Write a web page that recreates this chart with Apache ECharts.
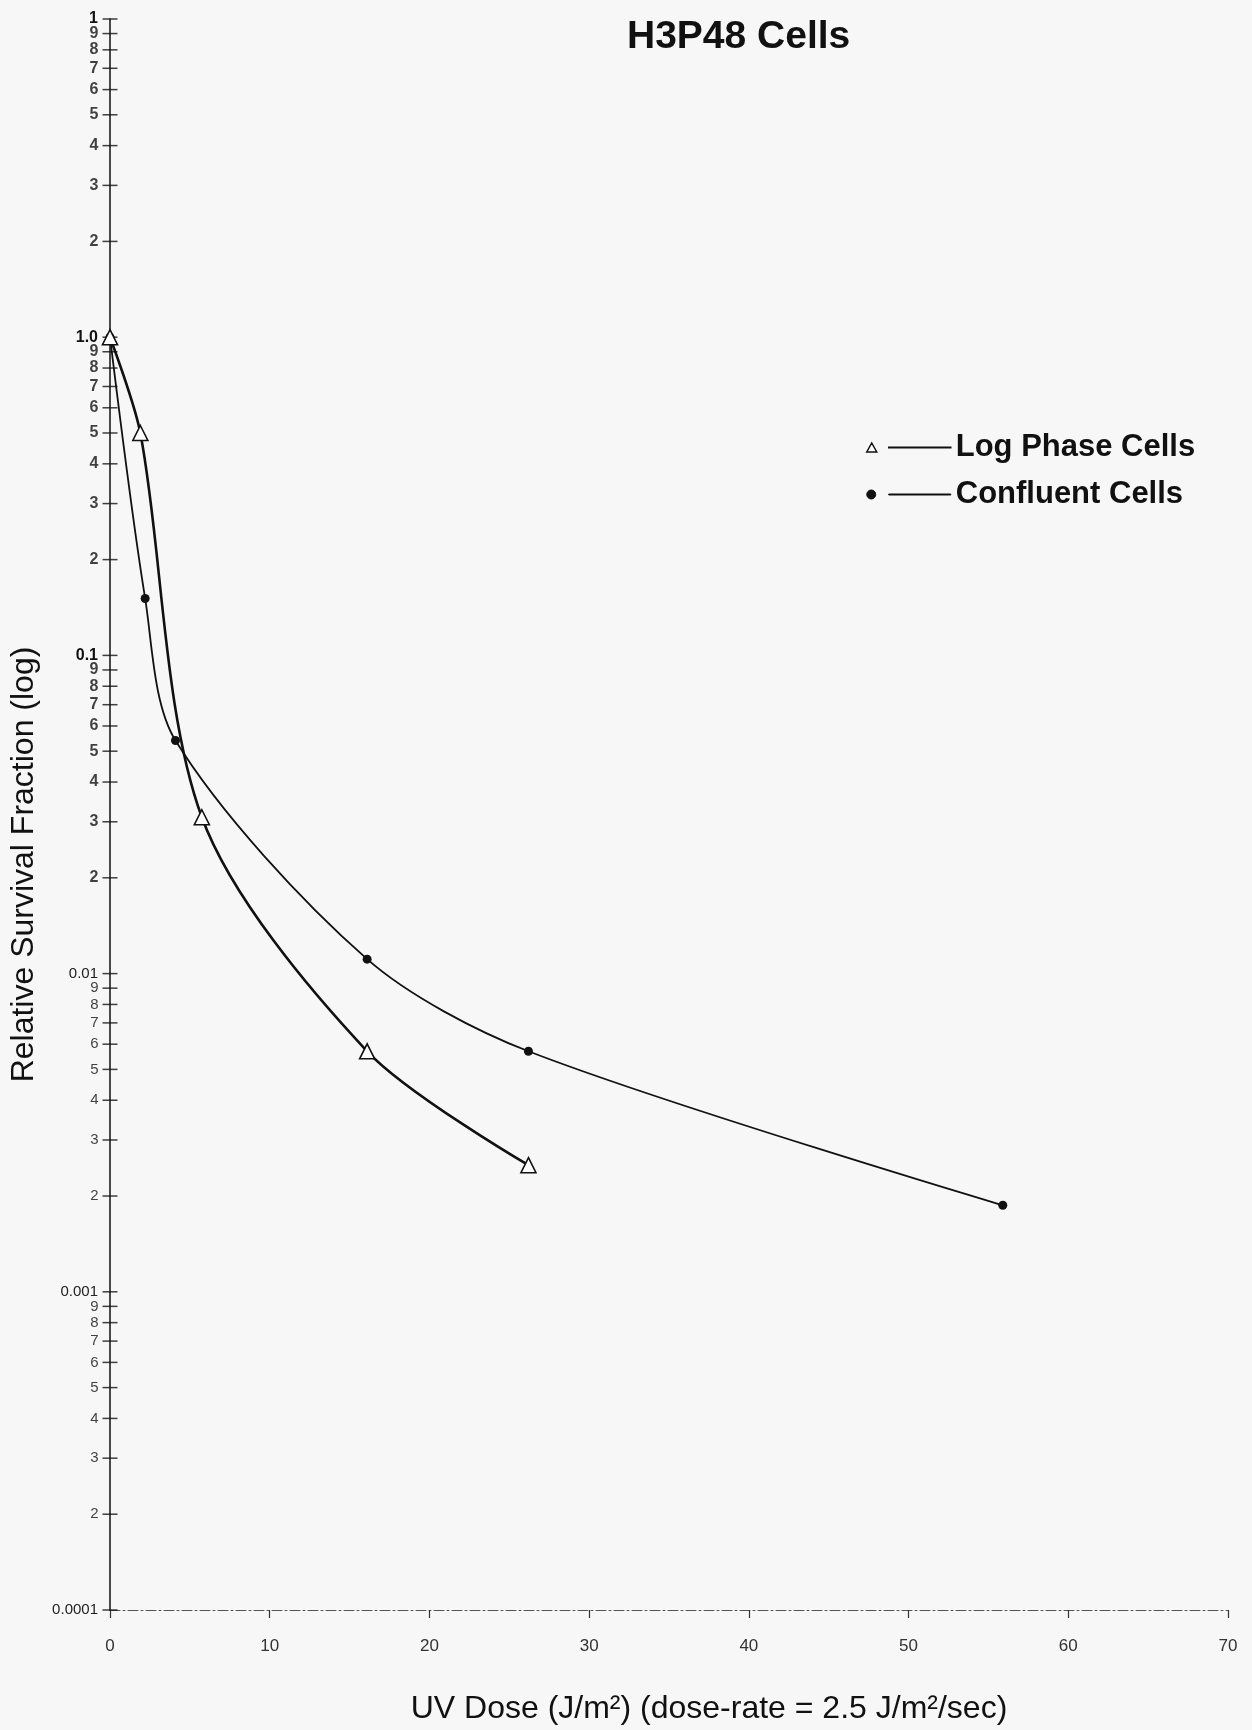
<!DOCTYPE html>
<html><head><meta charset="utf-8">
<script src="https://cdn.jsdelivr.net/npm/echarts@6/dist/echarts.min.js"></script>
<style>html,body{margin:0;padding:0;background:#f7f7f7}#c{width:1252px;height:1730px}</style>
</head><body><div id="c"></div>
<script>
// ---- data ----
const titleText = 'H3P48 Cells';
const seriesNames = ['Log Phase Cells', 'Confluent Cells'];
const logPhaseDose = [0, 1.9, 5.75, 16.1, 26.2];
const logPhaseSurvival = [1.0, 0.50, 0.031, 0.0057, 0.0025];
const confluentDose = [0, 2.2, 4.1, 16.1, 26.2, 55.9];
const confluentSurvival = [1.0, 0.151, 0.054, 0.0111, 0.0057, 0.00187];
const xMin = 0, xMax = 70, xStep = 10;
const yMin = 0.0001, yMax = 10;
const yDecadeExponents = [-4, -3, -2, -1, 0, 1];
const yDecadeLabels = ['0.0001', '0.001', '0.01', '0.1', '1.0', '1'];
const yMinorDigits = [2, 3, 4, 5, 6, 7, 8, 9];
const xAxisTitle = 'UV Dose (J/m²) (dose-rate = 2.5 J/m²/sec)';
const yAxisTitle = 'Relative Survival Fraction (log)';

// ---- build ----
const FONT = '"Liberation Sans", Arial, Helvetica, sans-serif';
const INK = '#111';
const zip = (a, b) => a.map((v, i) => [v, b[i]]);

const tickData = [];
yDecadeExponents.forEach(e => {
  tickData.push({ value: [0, Math.pow(10, e)], label: { show: false } });
  if (e < yDecadeExponents[yDecadeExponents.length - 1]) {
    yMinorDigits.forEach(d => {
      const v = d * Math.pow(10, e);
      const strong = v > 0.01;
      tickData.push({
        value: [0, v],
        label: { show: true, formatter: String(d),
                 fontWeight: strong ? 'bold' : 'normal', fontSize: strong ? 16 : 15 }
      });
    });
  }
});

const chart = echarts.init(document.getElementById('c'), null, { renderer: 'canvas' });
chart.setOption({
  backgroundColor: '#f7f7f7',
  animation: false,
  title: {
    text: titleText, left: 622, top: 13,
    textStyle: { fontFamily: FONT, fontSize: 39, fontWeight: 'bold', color: INK }
  },
  legend: {
    orient: 'vertical', left: 861, top: 427, itemGap: 16,
    itemWidth: 84, itemHeight: 12,
    textStyle: { fontFamily: FONT, fontSize: 31, fontWeight: 'bold', color: INK },
    data: [
      { name: seriesNames[0],
        icon: 'path://M5,0 L10,9 L0,9 Z M22,4.2 L84,4.2 L84,4.8 L22,4.8 Z',
        itemStyle: { color: '#fff', borderColor: INK, borderWidth: 1.5 } },
      { name: seriesNames[1],
        icon: 'path://M0,4.5 A4.5,4.5 0 1,0 9,4.5 A4.5,4.5 0 1,0 0,4.5 Z M22,4 L84,4 L84,5 L22,5 Z',
        itemStyle: { color: INK, borderColor: INK, borderWidth: 1 } }
    ]
  },
  grid: { left: 107, right: 24, top: 19, bottom: 108, containLabel: false },
  xAxis: {
    type: 'value', min: xMin, max: xMax, interval: xStep,
    name: xAxisTitle, nameLocation: 'middle', nameGap: 83,
    nameTextStyle: { fontFamily: FONT, fontSize: 32, color: INK, padding: [0, 0, 0, 80] },
    axisLine: { show: true, lineStyle: { color: '#555', width: 1, type: [10, 3, 2, 3] } },
    axisTick: { show: true, length: 8, lineStyle: { color: '#333', width: 1.2 } },
    axisLabel: { fontFamily: FONT, fontSize: 17, color: '#333', margin: 28 },
    splitLine: { show: false }
  },
  yAxis: {
    type: 'log', logBase: 10, min: yMin, max: yMax,
    name: yAxisTitle, nameLocation: 'middle', nameGap: 70, nameRotate: 90,
    nameTextStyle: { fontFamily: FONT, fontSize: 32, color: INK, padding: [0, 100, 0, 0] },
    axisLine: { show: true, onZero: false, lineStyle: { color: INK, width: 1.5 } },
    axisTick: { show: false },
    splitLine: { show: false },
    axisLabel: {
      margin: 12, fontFamily: FONT, fontSize: 15, color: INK,
      formatter: v => {
        const e = Math.round(Math.log10(v));
        const i = yDecadeExponents.indexOf(e);
        if (i < 0) return '';
        return (e >= -1 ? '{b|' : '{n|') + yDecadeLabels[i] + '}';
      },
      rich: {
        b: { fontFamily: FONT, fontSize: 16, fontWeight: 'bold', color: INK },
        n: { fontFamily: FONT, fontSize: 15, fontWeight: 'normal', color: '#222' }
      }
    }
  },
  series: [
    {
      name: 'yTicks', type: 'scatter', data: tickData, silent: true, clip: false,
      symbol: 'rect', symbolSize: [15, 1.5], z: 1,
      itemStyle: { color: INK },
      label: { position: 'left', distance: 4, fontFamily: FONT, fontSize: 15, color: INK },
      tooltip: { show: false }
    },
    {
      name: seriesNames[0], type: 'line', data: zip(logPhaseDose, logPhaseSurvival),
      smooth: 0.3, z: 4,
      symbol: 'triangle', symbolSize: 15, showAllSymbol: true,
      lineStyle: { color: INK, width: 2.6 },
      itemStyle: { color: '#fff', borderColor: INK, borderWidth: 1.6 }
    },
    {
      name: seriesNames[1], type: 'line', data: zip(confluentDose, confluentSurvival),
      smooth: 0.3, z: 3,
      symbol: 'circle', symbolSize: 9, showAllSymbol: true,
      lineStyle: { color: INK, width: 1.8 },
      itemStyle: { color: INK, borderColor: INK, borderWidth: 0 }
    }
  ]
});
</script></body></html>
